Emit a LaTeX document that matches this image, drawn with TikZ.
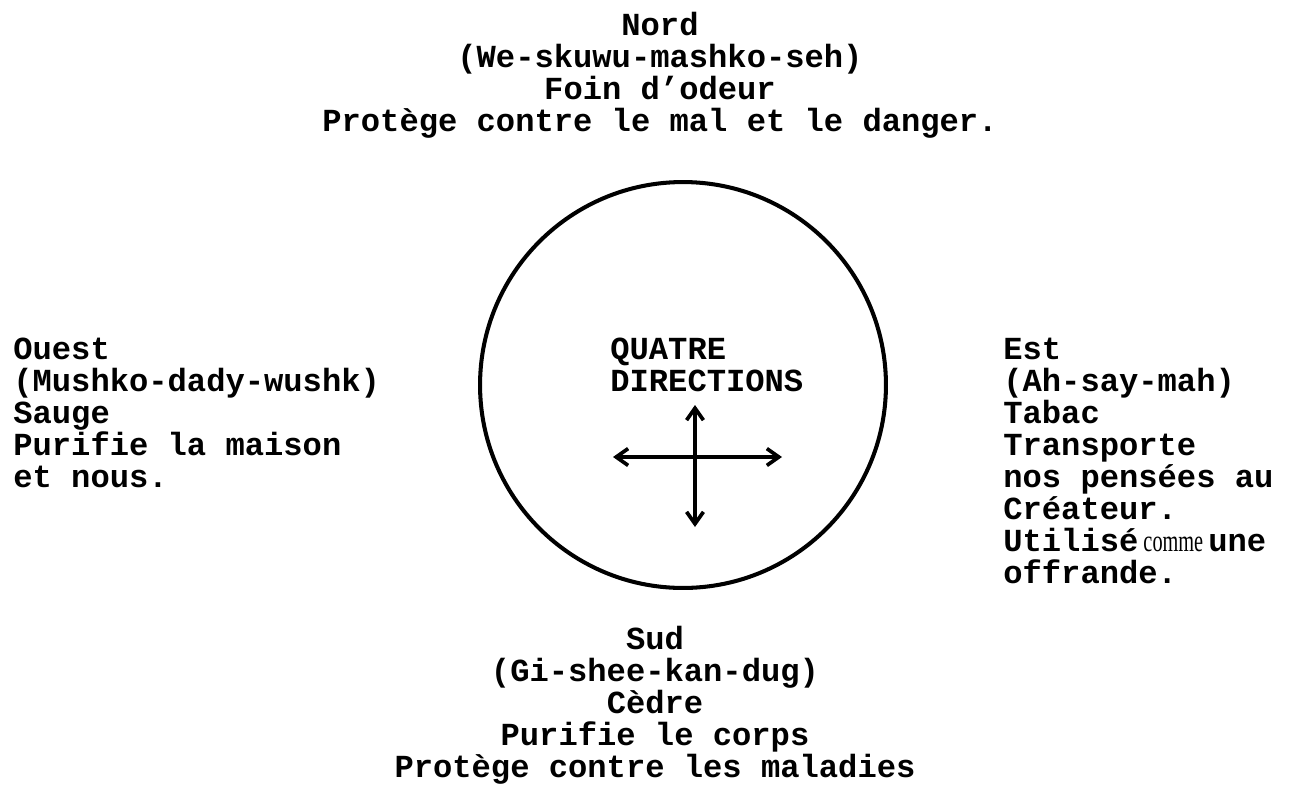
\documentclass[tikz,border=0pt]{standalone}
\usepackage{fontspec}
\setmainfont{Liberation Mono}
\newfontfamily\cmfont{Liberation Serif}[FakeStretch=0.66]
\usetikzlibrary{arrows.meta}

\begin{document}
\begin{tikzpicture}[x=0.02cm, y=-0.02cm,
  txt/.style={font=\bfseries\fontsize{18.3}{18.2}\selectfont, inner sep=0pt},
  arr/.style={{Straight Barb[length=6.8pt, width=9.6pt]}-{Straight Barb[length=6.8pt, width=9.6pt]}, line width=2.1pt}
]
\useasboundingbox (0,0) rectangle (1303,785);

% Draw the circle
\node (ring) [circle, draw, line width=2.3pt, minimum size=8.12cm, inner sep=0pt] at (683,385) {};

% Four directions (base = last line)
\node (nord) [txt, align=center, anchor=base] at (660,131)
  {Nord\\(We-skuwu-mashko-seh)\\Foin d'odeur\\Protège contre le mal et le danger.};
\node (ouest) [txt, align=left, anchor=base west] at (13,487)
  {Ouest\\(Mushko-dady-wushk)\\Sauge\\Purifie la maison\\et nous.};
\node (est) [txt, align=left, anchor=base west] at (1003,583)
  {Est\\(Ah-say-mah)\\Tabac\\Transporte\\nos pensées au\\Créateur.\\Utilisé{\cmfont\mdseries\fontsize{17.5}{18.2}\selectfont\ comme\ }une\\offrande.};
\node (sud) [txt, align=center, anchor=base] at (655,777)
  {Sud\\(Gi-shee-kan-dug)\\Cèdre\\Purifie le corps\\Protège contre les maladies};

% Title inside the circle
\node (titre) [txt, align=left, anchor=base west] at (610,391) {QUATRE\\DIRECTIONS};

% Cross of arrows
\coordinate (w) at (613,457);
\coordinate (e) at (782,457);
\coordinate (n) at (695,405);
\coordinate (s) at (695,527);
\draw[arr] (w) -- (e);
\draw[arr] (n) -- (s);

\end{tikzpicture}
\end{document}
